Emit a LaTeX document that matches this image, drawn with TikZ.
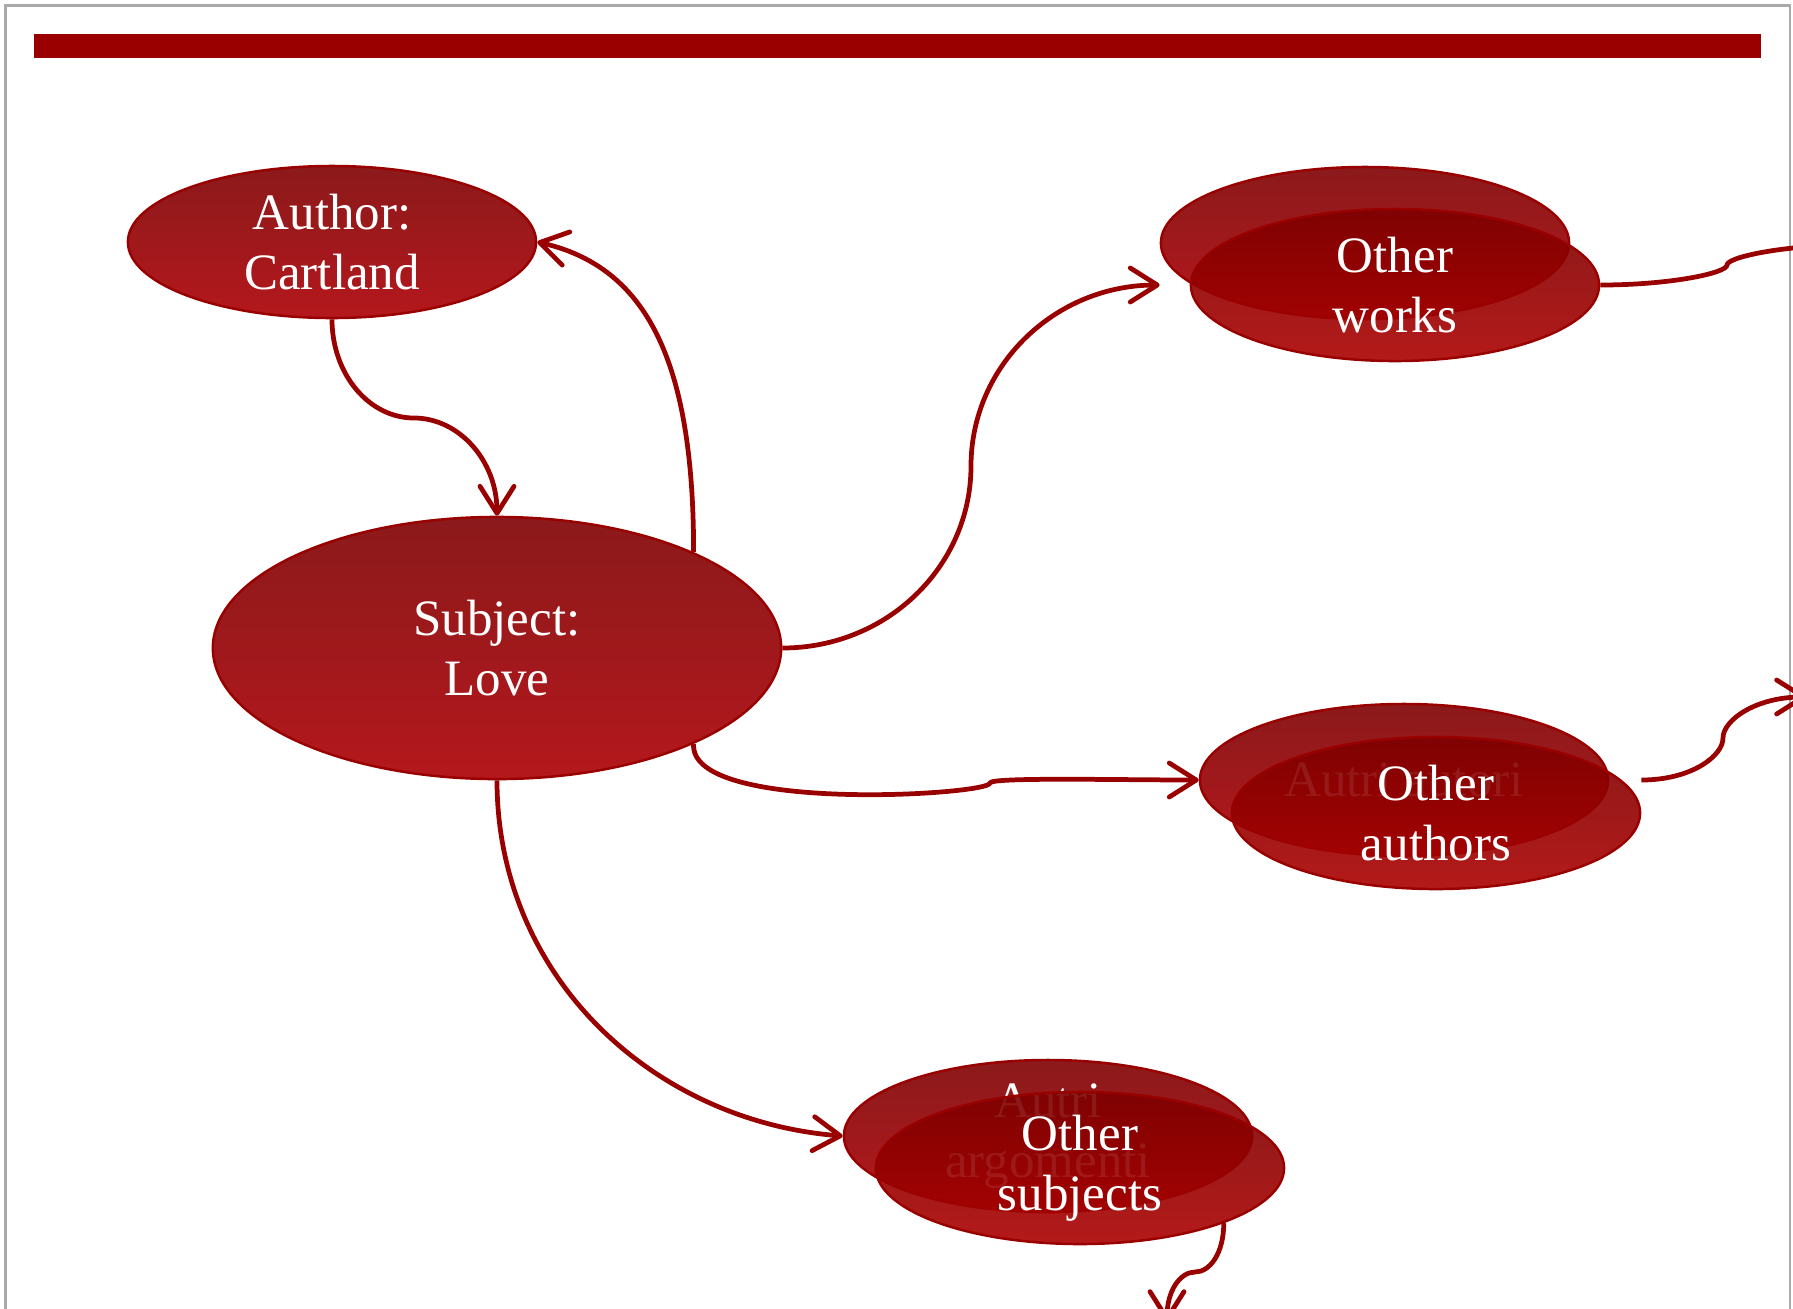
\documentclass[tikz,border=0pt]{standalone}
\usepackage{fontspec}
\setmainfont{Liberation Serif}
\usetikzlibrary{arrows.meta,shapes.geometric}
\definecolor{linkred}{RGB}{153,0,0}
\definecolor{barred}{RGB}{154,0,0}
\definecolor{bubtop}{RGB}{139,25,27}
\definecolor{bubbottom}{RGB}{180,24,28}
\definecolor{stacktop}{RGB}{125,0,0}
\definecolor{stackbottom}{RGB}{172,0,0}
\definecolor{framegray}{RGB}{170,170,170}
\tikzset{
  bubble/.style={ellipse, draw=linkred, line width=0.7pt, top color=bubtop, bottom color=bubbottom, text=white, align=center, font=\fontsize{14.5}{17}\selectfont, inner sep=0pt, minimum width=4.08cm, minimum height=1.52cm},
  kcenter/.style={bubble, minimum width=5.68cm, minimum height=2.62cm},
  kstack/.style={bubble, top color=stacktop, bottom color=stackbottom, fill opacity=0.9, text opacity=1},
  flow/.style={linkred, line width=1.35pt, -{Straight Barb[round, length=2.7mm, width=3.4mm]}},
}

\begin{document}
\begin{tikzpicture}[x=0.01cm, y=-0.01cm]
    \useasboundingbox (0,0) rectangle (1793,1308);
    \clip (0,0) rectangle (1793,1308);
    \draw[framegray, line width=0.6pt] (5.5,5.5) rectangle (1790,1400);
    \fill[barred] (34,34) rectangle (1761,58);
    \node[bubble] (author) at (332,242) {Author:\\Cartland};
    \node[kcenter] (subject) at (497,648) {Subject:\\Love};
    \node[bubble] (worksback) at (1365,243) {};
    \node[kstack] (works) at (1395,285) {Other\\works};
    \node[bubble] (authorsback) at (1404,780) {Autri autori};
    \node[kstack] (authors) at (1436,813) {Other\\authors};
    \node[bubble] (subjectsback) at (1048,1136) {Autri\\argomenti};
    \node[kstack] (subjects) at (1080,1168) {Other\\subjects};
    \coordinate (bendA) at (414,418);
    \coordinate (bendB) at (971,466);
    \coordinate (bendC) at (990,783);
    \coordinate (kinkW) at (1727,265);
    \coordinate (nextwork) at (1855,245);
    \coordinate (kinkA) at (1723,738);
    \coordinate (nextauthor) at (1806,697);
    \coordinate (kinkS) at (1195,1272);
    \coordinate (nextsubject) at (1167,1321);
    \draw[flow] (author.south) .. controls +(0,55) and +(-45,0) .. (bendA) .. controls +(45,0) and +(0,-55) .. (subject.north);
    \draw[flow] (subject.26) .. controls +(0,-190) and +(110,25) .. (author.east);
    \draw[flow] (subject.east) .. controls +(105,0) and +(0,100) .. (bendB) .. controls +(0,-100) and +(-105,0) .. (worksback.west |- works.west);
    \draw[flow] (subject.-26) .. controls +(-5,70) and +(0,12) .. (bendC) .. controls +(0,-6) and +(-80,0) .. (authorsback.west);
    \draw[flow] (subject.south) .. controls +(0,196) and +(-190,-15) .. (subjectsback.west);
    \draw[flow] (works.east) .. controls +(70,0) and +(0,8) .. (kinkW) .. controls +(0,-8) and +(-70,0) .. (nextwork);
    \draw[flow] (authors.east |- authorsback.east) .. controls +(50,0) and +(0,18) .. (kinkA) .. controls +(0,-18) and +(-50,0) .. (nextauthor);
    \draw[flow] (subjects.-21) .. controls +(0,30) and +(15,0) .. (kinkS) .. controls +(-15,0) and +(0,-30) .. (nextsubject);
  \end{tikzpicture}
\end{document}
